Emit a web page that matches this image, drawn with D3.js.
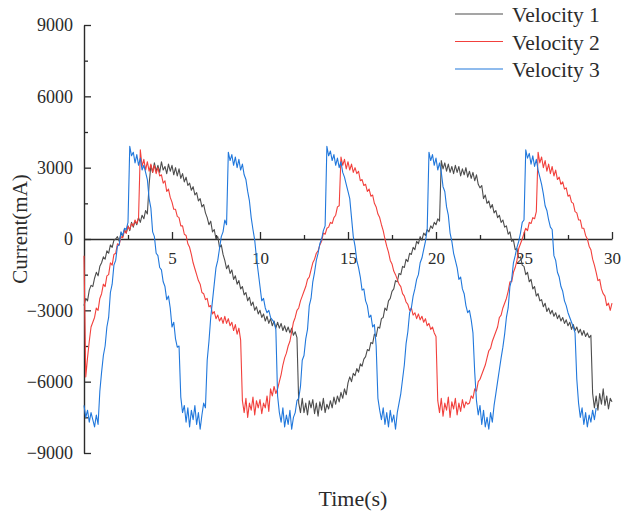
<!DOCTYPE html>
<html>
<head>
<meta charset="utf-8">
<script src="https://cdn.jsdelivr.net/npm/d3@7"></script>
<style>
  html, body { margin: 0; padding: 0; background: #fff; }
  svg { display: block; font-family: "Liberation Serif", "Times New Roman", serif; }
</style>
</head>
<body>
<svg id="chart" width="622" height="518"></svg>
<script>
// Sampling interval of the current recordings (s)
const timeStep = 0.1;

const seriesNames = ["Velocity 1", "Velocity 2", "Velocity 3"];

const xTickValues = [5, 10, 15, 20, 25, 30];
const xMinorValues = [2.5, 7.5, 12.5, 17.5, 22.5, 27.5];
const yTickValues = [-9000, -6000, -3000, 0, 3000, 6000, 9000];
const yMinorValues = [-7500, -4500, -1500, 1500, 4500, 7500];

// Motor current (mA), one row per second, 10 samples per row
const velocity1 = [
  [-2800, -2500, -2600, -2150, -1950, -2000, -1650, -1400, -1550, -1150],
  [-1000, -750, -850, -500, -600, -250, -350, -50, 0, 100],
  [-100, 250, 100, 400, 250, 550, 350, 700, 500, 750],
  [600, 900, 700, 1000, 850, 1200, 1050, 2300, 3100, 2800],
  [3200, 2850, 3100, 2800, 3250, 2900, 3050, 2750, 3150, 2850],
  [3100, 2700, 3000, 2650, 2950, 2550, 2750, 2400, 2600, 2250],
  [2350, 2050, 2200, 1850, 1950, 1600, 1700, 1350, 1450, 1100],
  [900, 600, 750, 300, 400, 0, 100, -350, -250, -650],
  [-900, -1250, -1100, -1450, -1300, -1700, -1550, -1900, -1750, -2100],
  [-2000, -2350, -2250, -2600, -2450, -2800, -2650, -3000, -2850, -3150],
  [-3000, -3300, -3150, -3450, -3250, -3550, -3350, -3650, -3450, -3750],
  [-3500, -3750, -3550, -3850, -3650, -3900, -3700, -3950, -3750, -4050],
  [-3900, -4150, -6900, -7300, -6700, -7300, -6900, -7400, -6800, -7100],
  [-6750, -7350, -6900, -7450, -6850, -7200, -6700, -7300, -6950, -7150],
  [-6800, -7100, -6650, -6950, -6600, -6850, -6450, -6700, -6300, -6550],
  [-6050, -5800, -6000, -5650, -5750, -5450, -5600, -5250, -5350, -5050],
  [-4950, -4650, -4700, -4350, -4400, -4000, -4100, -3700, -3750, -3350],
  [-3300, -2900, -3000, -2600, -2500, -2200, -2100, -1750, -1800, -1450],
  [-1500, -1150, -1200, -850, -950, -600, -650, -350, -450, -100],
  [-200, 100, -50, 250, 150, 400, 300, 550, 450, 700],
  [600, 850, 750, 3300, 2950, 3200, 2850, 3150, 2800, 3050],
  [2750, 3100, 2800, 3050, 2650, 2950, 2700, 3000, 2600, 2850],
  [2550, 2800, 2450, 2700, 2300, 2150, 2250, 1700, 1850, 1500],
  [1600, 1300, 1450, 1100, 1200, 900, 1000, 700, 800, 500],
  [550, 200, 300, -100, -50, -450, -400, -800, -750, -1100],
  [-1150, -1500, -1400, -1800, -1700, -2100, -2000, -2400, -2300, -2600],
  [-2550, -2850, -2700, -3050, -2900, -3150, -3000, -3250, -3100, -3350],
  [-3200, -3450, -3300, -3550, -3400, -3650, -3500, -3800, -3600, -3850],
  [-3700, -3950, -3800, -4050, -3850, -4100, -3950, -4150, -4050, -6500],
  [-7100, -6600, -7200, -6500, -6950, -6300, -7000, -6600, -7150, -6700],
  [-6850]
].flat();

const velocity2 = [
  [-700, -5800, -5000, -4300, -3700, -3500, -3300, -2900, -3000, -2500],
  [-2300, -1900, -2000, -1550, -1500, -1000, -1100, -650, -600, -200],
  [-250, 100, 50, 350, 250, 550, 400, 650, 550, 800],
  [650, 900, 3750, 3050, 3350, 2900, 3250, 2850, 3150, 2800],
  [3100, 2750, 3000, 2650, 2700, 2350, 2450, 2000, 2100, 1750],
  [1550, 1250, 1250, 950, 900, 550, 550, 200, 150, -200],
  [-350, -650, -1000, -1250, -1500, -1750, -1900, -2250, -2300, -2550],
  [-2500, -2850, -2800, -3150, -3050, -3350, -3200, -3450, -3300, -3550],
  [-3250, -3550, -3350, -3650, -3500, -3850, -3600, -4000, -3750, -4250],
  [-6800, -7300, -6700, -7500, -6900, -7200, -6650, -7400, -6800, -7100],
  [-6750, -7350, -6900, -7100, -6600, -7250, -6300, -6600, -6200, -6500],
  [-6300, -6000, -5700, -5300, -5000, -4800, -4500, -4300, -3900, -3500],
  [-3300, -3000, -2900, -2600, -2400, -2200, -2000, -1700, -1600, -1300],
  [-1000, -850, -600, -500, -250, -100, 250, 200, 450, 500],
  [700, 650, 900, 1000, 1350, 1400, 3450, 3100, 3350, 2950],
  [3250, 2900, 3150, 2800, 3000, 2750, 2850, 2450, 2500, 2250],
  [2300, 2000, 2100, 1800, 1850, 1500, 1350, 1050, 900, 600],
  [350, 0, -300, -550, -900, -1050, -1350, -1500, -1700, -1900],
  [-2000, -2300, -2400, -2650, -2750, -3000, -2900, -3200, -3100, -3350],
  [-3150, -3400, -3250, -3500, -3350, -3650, -3550, -3800, -3700, -3950],
  [-4100, -6800, -7300, -6700, -7450, -6900, -7200, -6650, -7500, -6850],
  [-7150, -6700, -7400, -6900, -7250, -6750, -7100, -6850, -6950, -6900],
  [-6600, -6700, -6300, -6400, -6000, -5900, -5700, -5500, -5300, -5000],
  [-4700, -4600, -4300, -4100, -3900, -3700, -3300, -3200, -2900, -2700],
  [-2500, -2200, -1800, -1800, -1400, -1200, -900, -400, -200, 0],
  [250, 450, 350, 700, 650, 900, 850, 1150, 3650, 3200],
  [3450, 3000, 3300, 2850, 3150, 2750, 3050, 2650, 2900, 2500],
  [2600, 2300, 2400, 2100, 2150, 1800, 1850, 1550, 1500, 1150],
  [1100, 800, 800, 450, 450, 150, 0, -300, -450, -850],
  [-1100, -1400, -1750, -1700, -2100, -2300, -2400, -2800, -2700, -3000],
  [-2700]
].flat();

const velocity3 = [
  [-7000, -7500, -7200, -7700, -7300, -7600, -7900, -7400, -7800, -6400],
  [-5600, -4900, -4500, -3700, -3300, -2250, -1900, -1100, -900, -300],
  [-250, 300, 150, 450, 400, 700, 3900, 3500, 3650, 3200],
  [3550, 3100, 3400, 2900, 3100, 2800, 2500, 1700, 1300, 300],
  [100, -600, -700, -1200, -1300, -1800, -2000, -2550, -2400, -2900],
  [-3700, -3500, -4200, -4550, -4500, -6650, -7300, -7000, -7700, -7100],
  [-7900, -7200, -7600, -7000, -7800, -7300, -8000, -7400, -6900, -7100],
  [-5100, -4300, -3300, -2600, -1900, -1200, -900, -400, 100, 300],
  [800, 600, 3650, 3300, 3550, 3100, 3450, 3000, 3350, 2900],
  [3150, 2700, 2500, 2000, 1600, 900, 400, -50, -800, -1400],
  [-2000, -2600, -2500, -2900, -3100, -3000, -3300, -3400, -3500, -3800],
  [-6600, -7300, -7700, -7100, -7900, -7400, -7800, -7200, -8000, -7500],
  [-7300, -6800, -6700, -6200, -5100, -4900, -4200, -3800, -2800, -2500],
  [-1800, -1400, -900, -600, -200, 0, 350, 550, 3900, 3500],
  [3700, 3300, 3550, 3100, 3400, 3000, 3250, 2800, 2600, 2300],
  [2000, 1700, 900, 100, -300, -900, -1200, -1600, -2150, -2100],
  [-2600, -2800, -3300, -3200, -3700, -3600, -4500, -6700, -7200, -7600],
  [-7100, -7800, -7300, -7900, -7200, -7700, -7400, -8000, -7300, -6900],
  [-6500, -5900, -5300, -4400, -3900, -3100, -2900, -2400, -2100, -1700],
  [-1500, -1000, -800, -450, -100, 400, 3650, 3300, 3550, 3100],
  [3400, 2900, 3200, 2800, 2200, 2000, 1350, 1000, 250, -100],
  [-600, -900, -1200, -1700, -1600, -2100, -2300, -2800, -3100, -3000],
  [-3400, -3950, -5600, -6800, -7400, -7000, -7800, -7200, -7900, -7500],
  [-8000, -7300, -7700, -7000, -6500, -6000, -5500, -5000, -4550, -4000],
  [-3300, -2900, -2000, -1700, -1000, -700, -350, -100, 250, 700],
  [800, 3750, 3400, 3600, 3150, 3500, 3050, 3350, 2900, 2600],
  [2300, 1900, 1400, 1200, 800, 500, 400, -700, -900, -1400],
  [-1600, -2000, -2200, -2600, -2800, -3100, -3300, -3500, -3700, -3950],
  [-5900, -6900, -7500, -7100, -7800, -7300, -7900, -7400, -7700, -7200],
  [-7600, -7100]
].flat();

const seriesValues = [velocity1, velocity2, velocity3];
const seriesColors = ["#4d4d4d", "#f2403c", "#2178dc"];

const svg = d3.select("#chart");
const axisColor = "#2b2b2b";
const textColor = "#2b2b2b";

const x = d3.scaleLinear().domain([0, 30]).range([84, 612]);
const y = d3.scaleLinear().domain([-9000, 9000]).range([453, 25]);

function styleAxis(g, fontSize) {
  g.select(".domain").attr("stroke", axisColor).attr("stroke-width", 1.4);
  g.selectAll(".tick line").attr("stroke", axisColor).attr("stroke-width", 1.3);
  g.selectAll(".tick text")
    .attr("fill", textColor)
    .style("font-size", fontSize + "px")
    .style("font-family", '"Liberation Serif", "Times New Roman", serif');
}

// Y axis: major and minor ticks pointing into the plot
const yAxisG = svg.append("g").attr("transform", `translate(${x(0)},0)`)
  .call(d3.axisLeft(y).tickValues(yTickValues).tickSize(-7).tickSizeOuter(0)
    .tickPadding(11).tickFormat(d3.format("d")));
styleAxis(yAxisG, 18);

const yMinorG = svg.append("g").attr("transform", `translate(${x(0)},0)`)
  .call(d3.axisLeft(y).tickValues(yMinorValues).tickSize(-4).tickSizeOuter(0).tickFormat(""));
yMinorG.select(".domain").remove();
yMinorG.selectAll(".tick line").attr("stroke", axisColor).attr("stroke-width", 1.3);

// X axis along the zero line, ticks pointing up
const xAxisG = svg.append("g").attr("transform", `translate(0,${y(0)})`)
  .call(d3.axisBottom(x).tickValues(xTickValues).tickSize(-7).tickSizeOuter(0)
    .tickPadding(13).tickFormat(d3.format("d")));
styleAxis(xAxisG, 17);

const xMinorG = svg.append("g").attr("transform", `translate(0,${y(0)})`)
  .call(d3.axisBottom(x).tickValues(xMinorValues).tickSize(-4).tickSizeOuter(0).tickFormat(""));
xMinorG.select(".domain").remove();
xMinorG.selectAll(".tick line").attr("stroke", axisColor).attr("stroke-width", 1.3);

// Current traces
const line = d3.line()
  .x((d, i) => x(i * timeStep))
  .y(d => y(d));

seriesValues.forEach((vals, k) => {
  svg.append("path")
    .datum(vals)
    .attr("fill", "none")
    .attr("stroke", seriesColors[k])
    .attr("stroke-width", 1.1)
    .attr("stroke-linejoin", "round")
    .attr("d", line);
});

// Axis titles
svg.append("text")
  .attr("transform", `translate(27,229) rotate(-90)`)
  .attr("text-anchor", "middle")
  .attr("fill", textColor)
  .style("font-size", "21px")
  .text("Current(mA)");

svg.append("text")
  .attr("x", 353).attr("y", 506)
  .attr("text-anchor", "middle")
  .attr("fill", textColor)
  .style("font-size", "22px")
  .text("Time(s)");

// Legend
const legend = svg.append("g");
seriesNames.forEach((name, k) => {
  const ly = 14 + k * 27.5;
  legend.append("line")
    .attr("x1", 455).attr("x2", 503)
    .attr("y1", ly).attr("y2", ly)
    .attr("stroke", seriesColors[k])
    .attr("stroke-width", 1.1);
  legend.append("text")
    .attr("x", 512).attr("y", ly + 8)
    .attr("fill", textColor)
    .style("font-size", "21.5px")
    .text(name);
});
</script>
</body>
</html>
